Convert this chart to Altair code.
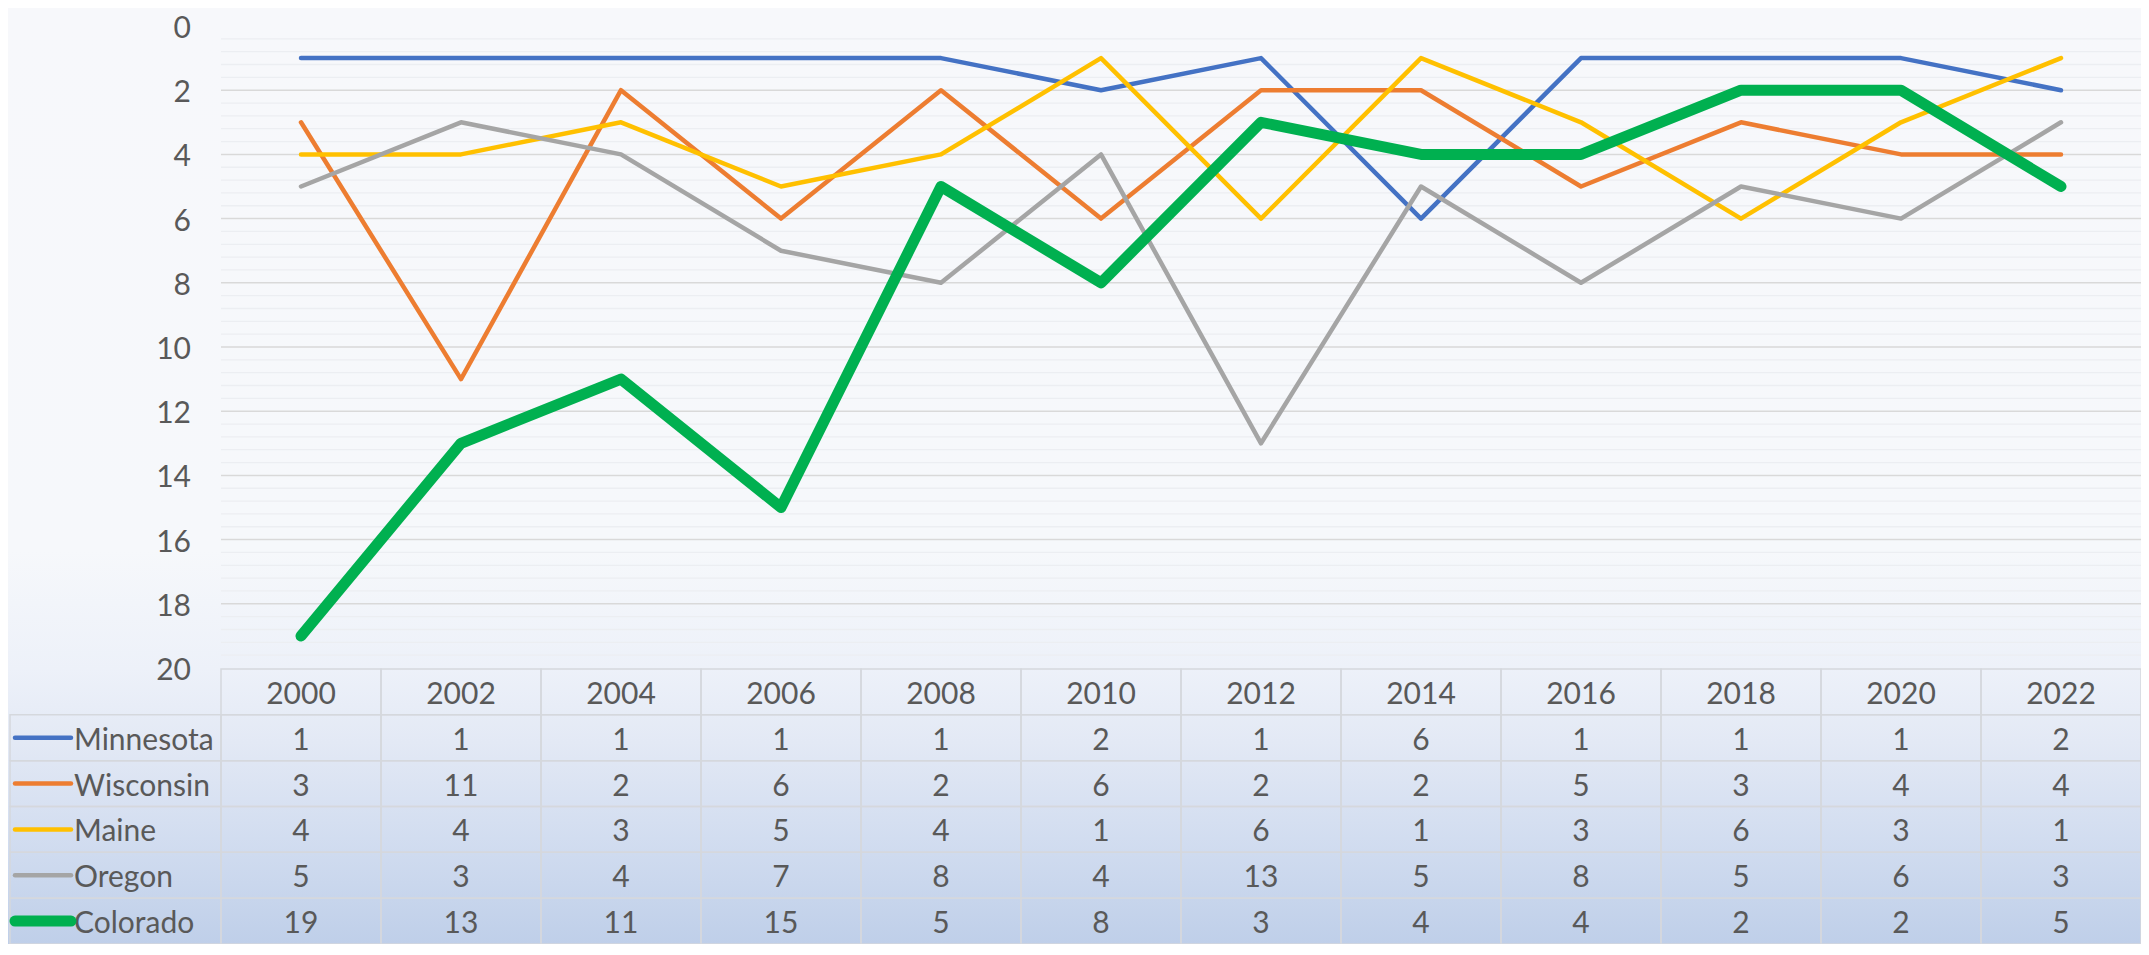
import altair as alt
import pandas as pd

# ---------------- data ----------------
years = ["2000", "2002", "2004", "2006", "2008", "2010",
         "2012", "2014", "2016", "2018", "2020", "2022"]
states = ["Minnesota", "Wisconsin", "Maine", "Oregon", "Colorado"]
minnesota = [1, 1, 1, 1, 1, 2, 1, 6, 1, 1, 1, 2]
wisconsin = [3, 11, 2, 6, 2, 6, 2, 2, 5, 3, 4, 4]
maine = [4, 4, 3, 5, 4, 1, 6, 1, 3, 6, 3, 1]
oregon = [5, 3, 4, 7, 8, 4, 13, 5, 8, 5, 6, 3]
colorado = [19, 13, 11, 15, 5, 8, 3, 4, 4, 2, 2, 5]
colors = ["#4472C4", "#ED7D31", "#FFC000", "#A5A5A5", "#00B050"]
y_ticks = [0, 2, 4, 6, 8, 10, 12, 14, 16, 18, 20]

series = dict(zip(states, [minnesota, wisconsin, maine, oregon, colorado]))

# ---------------- layout parameters ----------------
W, H = 2133, 936
LEFT, COLW = 213, 160          # plot/table left edge and column width (px)
TOP = 18                       # rank 0 position (px)
PPU = (660 - TOP) / 20.0       # px per rank unit (rank 20 at 660)
TABLE_TOP = 661
ROWH = (H - TABLE_TOP) / 6.0   # header + 5 rows fill the rest
ROW0 = TABLE_TOP + ROWH / 2
FONT = "Lato"
FS = 30
DY = 3
TXT = "#595959"

xdom = [-LEFT / COLW, (W - LEFT) / COLW]
ydom = [-TOP / PPU, (H - TOP) / PPU]
rdom = [-ROW0 / ROWH, (H - ROW0) / ROWH]

xs = alt.Scale(domain=xdom, nice=False, zero=False)
ys = alt.Scale(domain=ydom, nice=False, zero=False, reverse=True)
rs = alt.Scale(domain=rdom, nice=False, zero=False, reverse=True)
cs = alt.Scale(domain=states, range=colors)

rows = []
for si, s in enumerate(states):
    for i, yr in enumerate(years):
        v = series[s][i]
        rows.append(dict(state=s, year=yr, u=i + 0.5, rank=v, r=si + 1, label=str(v)))
df = pd.DataFrame(rows)

header_df = pd.DataFrame({"year": years, "u": [i + 0.5 for i in range(len(years))], "r": 0})

cells = []
for r in range(len(states) + 1):
    for i in range(len(years)):
        cells.append(dict(u0=i, u1=i + 1, r0=r - 0.5, r1=r + 0.5))
for r in range(1, len(states) + 1):
    cells.append(dict(u0=(2 - LEFT) / COLW, u1=0, r0=r - 0.5, r1=r + 0.5))
cells_df = pd.DataFrame(cells)

names_df = pd.DataFrame({"state": states, "r": list(range(1, len(states) + 1)),
                         "g0": (7 - LEFT) / COLW, "g1": (63 - LEFT) / COLW,
                         "t": (66 - LEFT) / COLW})

minor = [round(0.4 * k, 2) for k in range(1, 50) if k % 5 != 0]
major = [t for t in y_ticks if 0 < t < 20]
grid_minor_df = pd.DataFrame({"v": minor, "x0": 0, "x1": len(years)})
grid_major_df = pd.DataFrame({"v": major, "x0": 0, "x1": len(years)})
tick_df = pd.DataFrame({"v": y_ticks, "lab": [str(t) for t in y_ticks],
                        "xl": (183 - LEFT) / COLW})

# ---------------- background ----------------
grad = alt.LinearGradient(
    gradient="linear",
    stops=[
        alt.GradientStop(color="#f7f8fb", offset=0),
        alt.GradientStop(color="#f6f8fb", offset=0.58),
        alt.GradientStop(color="#edf1f9", offset=0.706),
        alt.GradientStop(color="#e3e9f5", offset=0.784),
        alt.GradientStop(color="#d2ddf0", offset=0.887),
        alt.GradientStop(color="#bfcfe9", offset=1),
    ],
    x1=0, x2=0, y1=0, y2=1,
)
bg = alt.Chart(pd.DataFrame({"a": [0]})).mark_rect(fill=grad, strokeWidth=0).encode(
    x=alt.value(0), x2=alt.value(W), y=alt.value(0), y2=alt.value(H)
)

# ---------------- plot ----------------
gmin = alt.Chart(grid_minor_df).mark_rule(color="#eceef2", strokeWidth=1.3).encode(
    x=alt.X("x0:Q", scale=xs, axis=None), x2="x1:Q",
    y=alt.Y("v:Q", scale=ys, axis=None),
)
gmaj = alt.Chart(grid_major_df).mark_rule(color="#d9d9d9", strokeWidth=1.5).encode(
    x=alt.X("x0:Q", scale=xs, axis=None), x2="x1:Q",
    y=alt.Y("v:Q", scale=ys, axis=None),
)
ylabels = alt.Chart(tick_df).mark_text(font=FONT, fontSize=FS, color=TXT, dy=DY,
                                       align="right", baseline="middle").encode(
    x=alt.X("xl:Q", scale=xs, axis=None),
    y=alt.Y("v:Q", scale=ys, axis=None),
    text="lab:N",
)
line_layers = []
for s in states:
    sw = 11 if s == "Colorado" else 4.5
    line_layers.append(
        alt.Chart(df).transform_filter(alt.datum.state == s)
        .mark_line(strokeWidth=sw, strokeCap="round", strokeJoin="round")
        .encode(
            x=alt.X("u:Q", scale=xs, axis=None),
            y=alt.Y("rank:Q", scale=ys, axis=None),
            color=alt.Color("state:N", scale=cs, legend=None),
        )
    )
plot_group = alt.layer(gmin, gmaj, ylabels, *line_layers)

# ---------------- data table ----------------
cell_marks = alt.Chart(cells_df).mark_rect(fillOpacity=0, stroke="#d5d8dd", strokeWidth=1.5).encode(
    x=alt.X("u0:Q", scale=xs, axis=None), x2="u1:Q",
    y=alt.Y("r0:Q", scale=rs, axis=None), y2="r1:Q",
)
header_txt = alt.Chart(header_df).mark_text(font=FONT, fontSize=FS, color=TXT, dy=DY,
                                            align="center", baseline="middle").encode(
    x=alt.X("u:Q", scale=xs, axis=None),
    y=alt.Y("r:Q", scale=rs, axis=None),
    text="year:N",
)
val_txt = alt.Chart(df).mark_text(font=FONT, fontSize=FS, color=TXT, dy=DY,
                                  align="center", baseline="middle").encode(
    x=alt.X("u:Q", scale=xs, axis=None),
    y=alt.Y("r:Q", scale=rs, axis=None),
    text="label:N",
)
name_txt = alt.Chart(names_df).mark_text(font=FONT, fontSize=FS, color=TXT, dy=DY,
                                         align="left", baseline="middle").encode(
    x=alt.X("t:Q", scale=xs, axis=None),
    y=alt.Y("r:Q", scale=rs, axis=None),
    text="state:N",
)
glyphs_thin = alt.Chart(names_df).transform_filter(alt.datum.state != "Colorado").mark_rule(
    strokeWidth=4.5, strokeCap="round").encode(
    x=alt.X("g0:Q", scale=xs, axis=None), x2="g1:Q",
    y=alt.Y("r:Q", scale=rs, axis=None),
    color=alt.Color("state:N", scale=cs, legend=None),
)
glyphs_thick = alt.Chart(names_df).transform_filter(alt.datum.state == "Colorado").mark_rule(
    strokeWidth=11, strokeCap="round").encode(
    x=alt.X("g0:Q", scale=xs, axis=None), x2="g1:Q",
    y=alt.Y("r:Q", scale=rs, axis=None),
    color=alt.Color("state:N", scale=cs, legend=None),
)
table_group = alt.layer(cell_marks, header_txt, val_txt, name_txt, glyphs_thin, glyphs_thick)

chart = (
    alt.layer(bg, table_group, plot_group)
    .resolve_scale(y="independent")
    .properties(width=W, height=H, autosize=alt.AutoSizeParams(type="none"),
                padding=0, background="#f7f8fb")
    .configure_view(stroke=None)
)

chart.save("out.html", embed_options={"renderer": "svg", "actions": False})
